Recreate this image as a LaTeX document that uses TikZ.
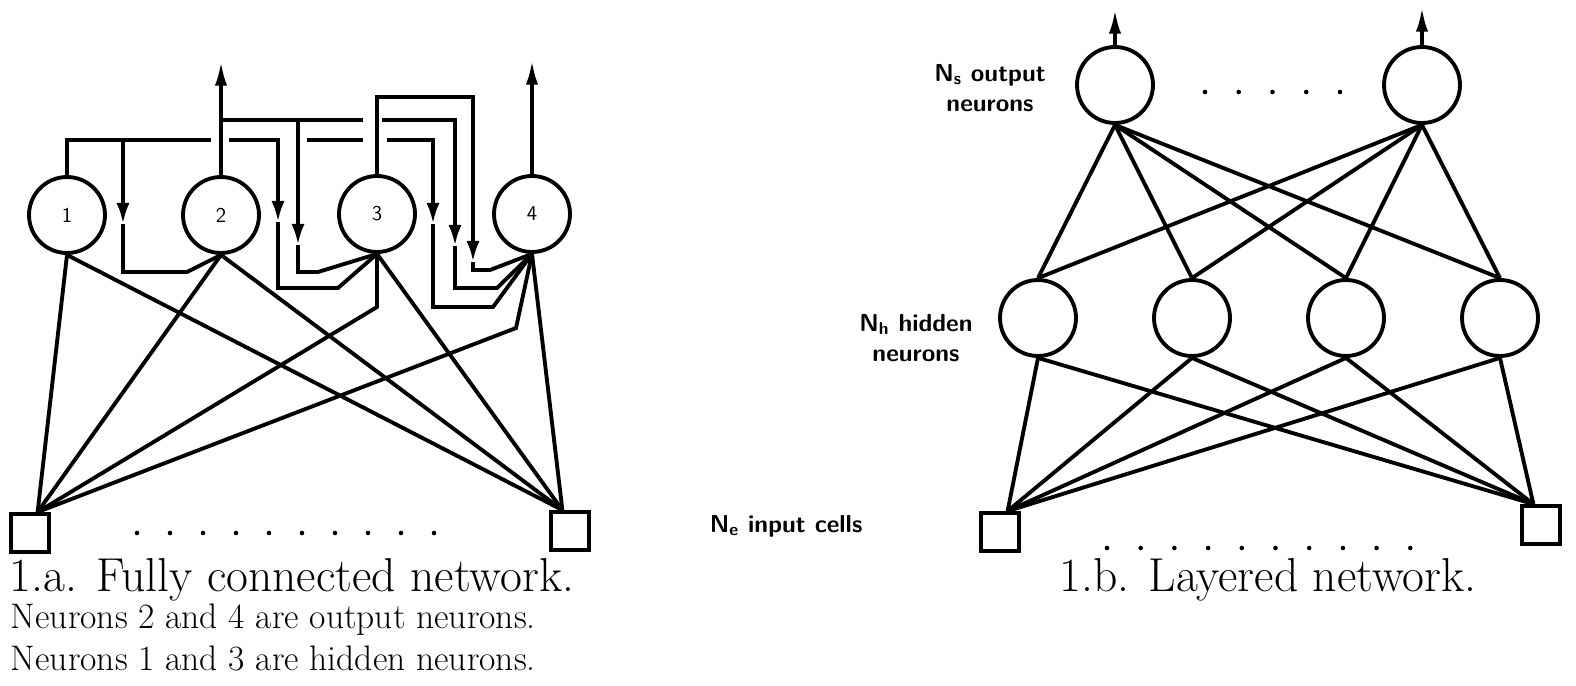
\documentclass[tikz,border=0pt]{standalone}
\usepackage{fontspec}
\usepackage{tikz}
\usetikzlibrary{arrows.meta}

\begin{document}
\begin{tikzpicture}[x=0.02cm, y=-0.02cm, line width=2.2pt,
    neuron/.style={draw, circle, minimum size=1.52cm, inner sep=0pt, font=\fontsize{12}{12}\selectfont\sffamily},
    cell/.style={draw, rectangle, minimum size=0.76cm, inner sep=0pt},
    outarrow/.style={-{Latex[length=14pt,width=7pt]}},
    feed/.style={-{Latex[length=12pt,width=7.5pt]}},
    caption/.style={font=\fontsize{27.1}{32}\selectfont, inner sep=0pt},
    note/.style={font=\fontsize{20.2}{24}\selectfont, inner sep=0pt},
    lbl/.style={font=\fontsize{14}{17.5}\selectfont\sffamily\bfseries, align=center, inner sep=0pt}]
    \useasboundingbox (0,0) rectangle (1576,686);

    % 1.a fully connected
    \node[neuron] (n1) at (67,215) {1};
    \node[neuron] (n2) at (221,215) {2};
    \node[neuron] (n3) at (377,214) {3};
    \node[neuron] (n4) at (532,214) {4};
    \node[cell] (i1) at (30,533) {};
    \node[cell] (i2) at (570,531) {};
    \draw[outarrow] (n2.north) -- ++(0,-114);
    \draw[outarrow] (n4.north) -- ++(0,-114);

    \foreach \n in {n1,n2} \draw (i1.70) -- (\n.south);
    \draw (i1.70) -- (n3.south |- 0,307) -- (n3.south);
    \draw (i1.70) -- (516,328) -- (n4.south);
    \foreach \n in {n1,n2,n3,n4} \draw (i2.110) -- (\n.south);

    \draw (n1.north) -- (67,140) -- (211,140);
    \draw (221,120) -- (363,120);
    \draw[feed] (229,140) -- (278,140) -- (278,222);
    \draw (307,140) -- (363,140);
    \draw[feed] (387,140) -- (433,140) -- (433,224);
    \draw[feed] (382,120) -- (455,120) -- (455,246);
    \draw[feed] (n3.north) -- (377,97) -- (473,97) -- (473,262);
    \draw[feed] (123,140) -- (123,224);
    \draw[feed] (298,120) -- (298,245);

    \draw (123,224) -- (123,272) -- (187,272) -- (n2.south);
    \draw (278,222) -- (278,288) -- (338,288) -- (n3.south);
    \draw (298,245) -- (298,272) -- (318,272) -- (n3.south);
    \draw (433,224) -- (433,307) -- (493,307) -- (n4.south);
    \draw (455,246) -- (455,288) -- (497,288) -- (n4.south);
    \draw (473,262) -- (473,270) -- (490,270) -- (n4.south);

    \foreach \i in {0,...,9} \fill (137+33*\i,533) circle (1.3pt);

    \node[caption, anchor=base west] (capa) at (8,591) {1.a. Fully connected network.};
    \node[note, anchor=base west] (outs) at (9,628) {Neurons 2 and 4 are output neurons.};
    \node[note, anchor=base west] (hids) at (9,670) {Neurons 1 and 3 are hidden neurons.};

    % 1.b layered
    \node[neuron] (s1) at (1115,85) {};
    \node[neuron] (s2) at (1422,85) {};
    \foreach \x [count=\i] in {1038,1192,1346,1500}
        \node[neuron] (h\i) at (\x,318) {};
    \node[cell] (e1) at (1000,532) {};
    \node[cell] (e2) at (1541,525) {};
    \draw[outarrow] (s1.north) -- ++(0,-36);
    \draw[outarrow] (s2.north) -- ++(0,-38);
    \foreach \s in {s1,s2}
        \foreach \i in {1,...,4} \draw (\s.south) -- (h\i.north);
    \foreach \i in {1,...,4} {
        \draw (h\i.south) -- (e1.70);
        \draw (h\i.south) -- (e2.110);
    }
    \foreach \i in {0,...,4} \fill (1205+33.75*\i,92) circle (1.3pt);
    \foreach \i in {0,...,9} \fill (1107+33.7*\i,548) circle (1.3pt);

    \node[lbl] (ls) at (990,88) {N\textsubscript{s} output\\neurons};
    \node[lbl] (lh) at (916,338) {N\textsubscript{h} hidden\\neurons};
    \node[lbl, anchor=west] (le) at (708,526) {N\textsubscript{e} input cells};
    \node[caption, anchor=base] (capb) at (1268,591) {1.b. Layered network.};
\end{tikzpicture}
\end{document}
